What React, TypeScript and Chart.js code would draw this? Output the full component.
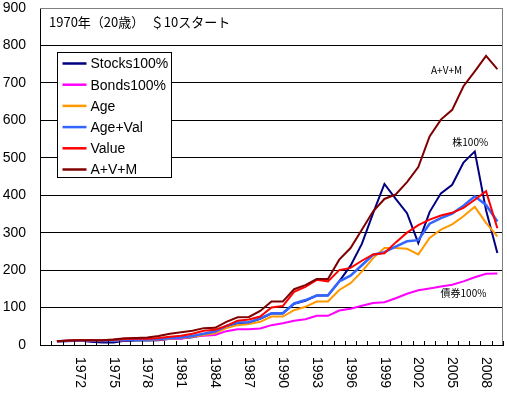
import React, { useEffect, useRef } from 'react';
import { Chart, registerables } from 'chart.js';

Chart.register(...registerables);

const years = [
  1970, 1971, 1972, 1973, 1974, 1975, 1976, 1977, 1978, 1979,
  1980, 1981, 1982, 1983, 1984, 1985, 1986, 1987, 1988, 1989,
  1990, 1991, 1992, 1993, 1994, 1995, 1996, 1997, 1998, 1999,
  2000, 2001, 2002, 2003, 2004, 2005, 2006, 2007, 2008, 2009,
];

const stocks = [
  10, 11, 12, 9, 7, 7, 11, 12, 12, 13,
  17, 18, 21, 27, 35, 50, 58, 60, 70, 84,
  84, 110, 118, 132, 132, 170, 212, 270, 352, 430,
  390, 352, 272, 355, 405, 428, 487, 517, 360, 246,
];
const bonds = [
  10, 11, 11, 12, 12, 13, 13, 14, 15, 15,
  16, 17, 22, 25, 27, 37, 42, 42, 44, 53,
  58, 65, 69, 78, 78, 92, 97, 105, 112, 114,
  125, 137, 146, 151, 156, 161, 170, 181, 190, 191,
];
const age = [
  10, 11, 12, 12, 11, 12, 13, 14, 14, 15,
  17, 19, 22, 27, 31, 45, 53, 56, 62, 76,
  76, 93, 102, 116, 116, 147, 165, 196, 232, 259,
  259, 257, 242, 286, 308, 322, 344, 369, 326, 290,
];
const ageVal = [
  10, 11, 12, 12, 11, 12, 14, 14, 15, 16,
  18, 20, 24, 30, 36, 51, 60, 61, 71, 85,
  85, 111, 120, 132, 133, 170, 185, 213, 241, 248,
  263, 277, 280, 324, 339, 351, 372, 397, 374, 330,
];
const value = [
  10, 12, 13, 13, 12, 14, 16, 17, 17, 19,
  22, 25, 30, 38, 41, 51, 65, 68, 76, 100,
  104, 142, 155, 174, 170, 200, 206, 225, 242, 245,
  274, 300, 320, 335, 346, 353, 366, 388, 411, 312,
];
const avm = [
  10, 12, 13, 13, 13, 15, 18, 19, 20, 24,
  30, 34, 38, 45, 46, 62, 74, 75, 91, 116,
  116, 149, 160, 176, 176, 228, 259, 308, 357, 390,
  402, 435, 475, 557, 602, 628, 691, 731, 772, 737,
];

const seriesNames = ['Stocks100%', 'Bonds100%', 'Age', 'Age+Val', 'Value', 'A+V+M'];
const seriesData = [stocks, bonds, age, ageVal, value, avm];
const seriesColors = ['#000080', '#ff00ff', '#ff9900', '#3366ff', '#ff0000', '#800000'];
const seriesWidths = [2, 2, 2, 2.5, 2, 2];

const titleText = '1970年（20歳）　＄10スタート';
const notes = [
  { text: 'A+V+M', year: 2004.5, val: 734 },
  { text: '株100%', year: 2006.6, val: 542 },
  { text: '債券100%', year: 2006.0, val: 139 },
];
const yMin = 0;
const yMax = 900;
const yStep = 100;
const labelEvery = 3;

// first category is an empty slot before 1970
const categories = ['', ...years.map(String)];
const firstYear = years[0] - 1;

const FONT = '"Liberation Sans", Arial, sans-serif';
const JFONT = '"Noto Sans CJK JP", "Liberation Sans", sans-serif';

const decorPlugin = {
  id: 'decor',
  afterDraw(chart: any) {
    const { ctx, chartArea: ca, scales } = chart;
    const x = scales.x;
    const y = scales.y;
    const n = chart.data.labels.length;
    ctx.save();

    // gray plot frame (top, right)
    ctx.strokeStyle = '#808080';
    ctx.lineWidth = 1;
    ctx.beginPath();
    const t = Math.round(ca.top) + 0.5;
    const r = Math.round(ca.right) - 0.5;
    ctx.moveTo(Math.round(ca.left), t);
    ctx.lineTo(r, t);
    ctx.lineTo(r, Math.round(ca.bottom));
    ctx.stroke();

    // inner tick marks between categories
    ctx.strokeStyle = '#000';
    ctx.beginPath();
    for (let k = 1; k <= n; k++) {
      const px = Math.round(x.getPixelForValue(k - 0.5)) + 0.5;
      ctx.moveTo(px, ca.bottom);
      ctx.lineTo(px, ca.bottom - 4);
    }
    ctx.stroke();

    // rotated x labels
    ctx.fillStyle = '#000';
    ctx.font = '14px ' + FONT;
    ctx.textAlign = 'left';
    ctx.textBaseline = 'middle';
    chart.data.labels.forEach((lab: string, i: number) => {
      if (!lab || i % labelEvery !== 0) return;
      const px = x.getPixelForValue(i);
      ctx.save();
      ctx.translate(px, ca.bottom + 12);
      ctx.rotate(Math.PI / 2);
      ctx.fillText(lab, 0, 0);
      ctx.restore();
    });

    // title
    ctx.font = '13px ' + JFONT;
    ctx.textAlign = 'left';
    ctx.textBaseline = 'middle';
    ctx.fillText(titleText, ca.left + 9, ca.top + 14);

    // annotations
    ctx.font = '10px ' + JFONT;
    ctx.textAlign = 'center';
    notes.forEach((nt) => {
      ctx.fillText(nt.text, x.getPixelForValue(nt.year - firstYear), y.getPixelForValue(nt.val));
    });

    // legend box
    const lx = Math.round(ca.left + 17) + 0.5;
    const ly = Math.round(ca.top + 44) + 0.5;
    const lw = 114;
    const lh = 125;
    ctx.fillStyle = '#fff';
    ctx.fillRect(lx, ly, lw, lh);
    ctx.strokeStyle = '#000';
    ctx.lineWidth = 1;
    ctx.strokeRect(lx, ly, lw, lh);
    ctx.font = '14px ' + FONT;
    ctx.textAlign = 'left';
    ctx.textBaseline = 'middle';
    chart.data.datasets.forEach((ds: any, i: number) => {
      const cy = ly + 11 + i * 21.2;
      ctx.strokeStyle = ds.borderColor;
      ctx.lineWidth = 2.5;
      ctx.beginPath();
      ctx.moveTo(lx + 5, cy);
      ctx.lineTo(lx + 29, cy);
      ctx.stroke();
      ctx.fillStyle = '#000';
      ctx.fillText(ds.label, lx + 33, cy + 1);
    });

    ctx.restore();
  },
};

export default function App() {
  const ref = useRef<HTMLCanvasElement | null>(null);

  useEffect(() => {
    if (!ref.current) return;
    const chart = new Chart(ref.current, {
      type: 'line',
      data: {
        labels: categories,
        datasets: seriesNames.map((name, i) => ({
          label: name,
          data: [null, ...seriesData[i]],
          borderColor: seriesColors[i],
          backgroundColor: seriesColors[i],
          borderWidth: seriesWidths[i],
          pointRadius: 0,
          tension: 0,
          fill: false,
          order: seriesNames.length - 1 - i,
        })),
      },
      options: {
        animation: false,
        responsive: false,
        maintainAspectRatio: false,
        events: [],
        layout: { padding: { top: 8, right: 4, left: 0, bottom: 0 } },
        plugins: {
          legend: { display: false },
          title: { display: false },
          tooltip: { enabled: false },
        },
        scales: {
          x: {
            type: 'category',
            offset: true,
            grid: { display: false, offset: true },
            border: { display: true, color: '#000', width: 1 },
            ticks: { display: false },
            afterFit: (s: any) => {
              s.height = 53;
              s.paddingLeft = 0;
              s.paddingRight = 0;
            },
          },
          y: {
            min: yMin,
            max: yMax,
            ticks: {
              stepSize: yStep,
              color: '#000',
              font: { family: FONT, size: 14 },
              padding: 14,
            },
            grid: {
              drawTicks: false,
              color: (c: any) => (c.tick && c.tick.value === yMax ? '#808080' : '#000'),
              lineWidth: 1,
            },
            border: { display: true, color: '#000', width: 1 },
            afterFit: (s: any) => {
              s.width = 40;
              s.paddingTop = 0;
              s.paddingBottom = 0;
            },
          },
        },
      },
      plugins: [decorPlugin],
    });
    return () => chart.destroy();
  }, []);

  return (
    <div style={{ position: 'absolute', left: 0, top: 0, width: 507, height: 398, background: '#fff' }}>
      <canvas ref={ref} width={507} height={398} style={{ display: 'block' }} />
    </div>
  );
}
